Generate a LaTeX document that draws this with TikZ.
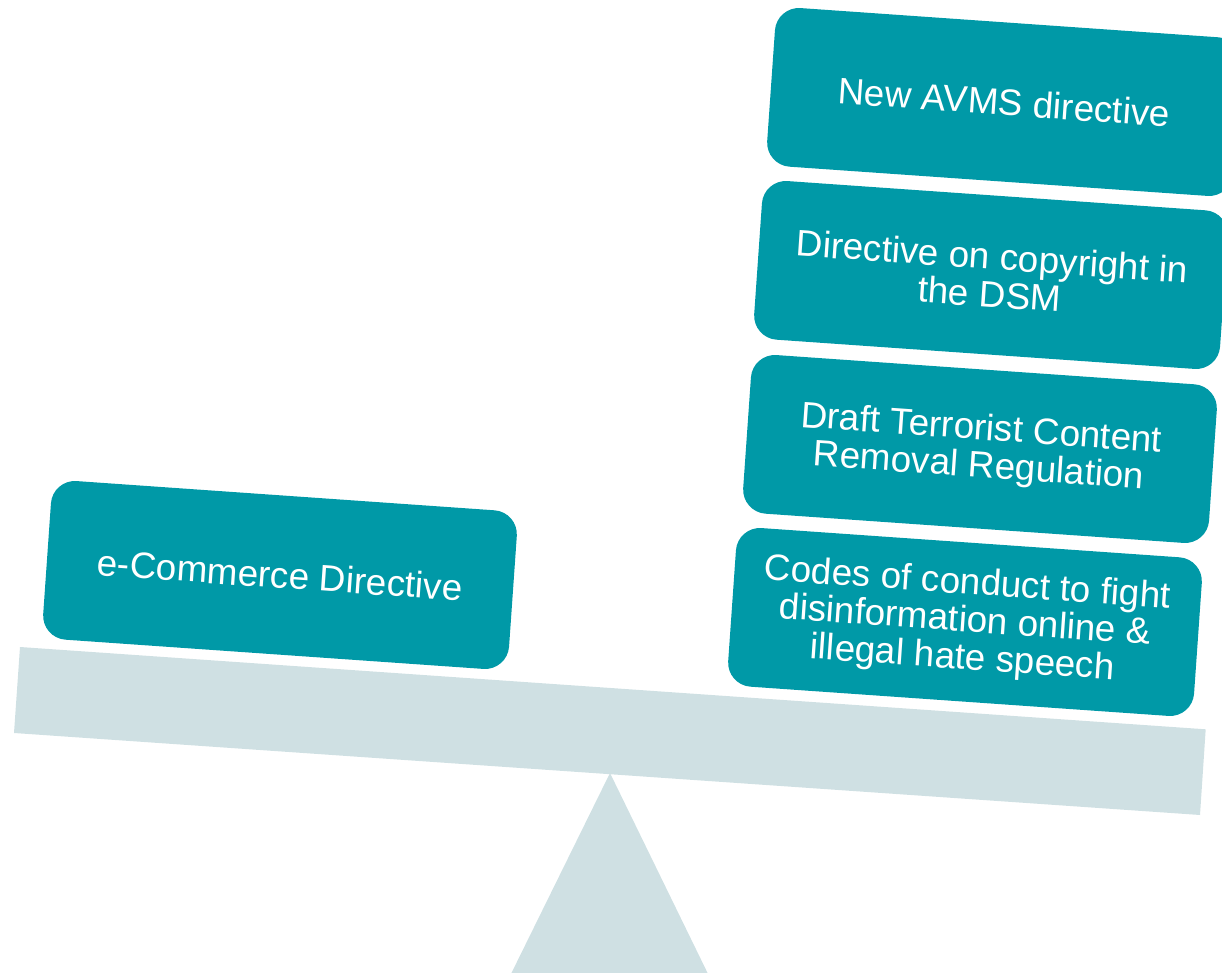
\documentclass[tikz,border=0pt]{standalone}
\usepackage{fontspec}
\setmainfont{Liberation Sans}
\definecolor{boxteal}{RGB}{0,153,167}
\definecolor{beamgray}{RGB}{207,224,227}
\begin{document}
\begin{tikzpicture}[x=0.5pt,y=-0.5pt,
  weightbox/.style={rectangle, rounded corners=12pt, fill=boxteal, text=white,
    minimum width=233.5pt, minimum height=79.5pt, inner sep=0pt, align=center,
    rotate=-4, font=\fontsize{18.4pt}{18.8pt}\selectfont},
  support/.style={fill=beamgray}]
\useasboundingbox (0,0) rectangle (1222,973);
\clip (0,0) rectangle (1222,973);
% fulcrum
\fill[support] (610,773) -- (711,980) -- (508,980) -- cycle;
% beam
\fill[support] (20,647) -- (1205.7,729.3) -- (1200,815) -- (14,733) -- cycle;
% weights
\node[weightbox] (ecom)  at (280,575)  {e-Commerce Directive};
\node[weightbox] (codes) at (965,622)  {Codes of conduct to fight\\disinformation online \&\\illegal hate speech};
\node[weightbox] (draft) at (980,449)  {Draft Terrorist Content\\Removal Regulation};
\node[weightbox] (dsm)   at (991,275)  {Directive on copyright in\\the DSM};
\node[weightbox] (avms)  at (1004,102) {New AVMS directive};
\end{tikzpicture}
\end{document}
